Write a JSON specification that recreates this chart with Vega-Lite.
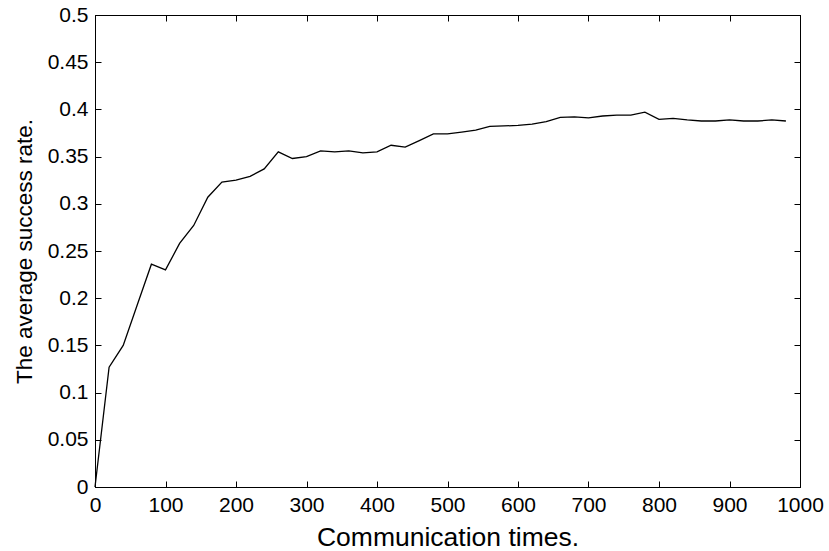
{
  "$schema": "https://vega.github.io/schema/vega-lite/v6.json",
  "width": 705,
  "height": 472,
  "autosize": {"type": "none"},
  "padding": {"left": 95, "top": 15, "right": 29, "bottom": 64},
  "background": "white",
  "config": {
    "view": {"stroke": "black", "strokeWidth": 1},
    "font": "Liberation Sans",
    "axis": {
      "grid": false,
      "domainColor": "black",
      "tickColor": "black",
      "labelColor": "black",
      "titleColor": "black",
      "labelFont": "Liberation Sans",
      "titleFont": "Liberation Sans",
      "labelFontSize": 21,
      "titleFontSize": 25,
      "titleFontWeight": "normal",
      "tickSize": -6,
      "labelPadding": 13,
      "labelFlush": false,
      "labelOverlap": false
    }
  },
  "data": {
    "values": [
      {"t": 0, "rate": 0.0},
      {"t": 20, "rate": 0.127},
      {"t": 40, "rate": 0.15},
      {"t": 60, "rate": 0.193},
      {"t": 80, "rate": 0.236},
      {"t": 100, "rate": 0.23},
      {"t": 120, "rate": 0.258},
      {"t": 140, "rate": 0.277},
      {"t": 160, "rate": 0.307},
      {"t": 180, "rate": 0.323},
      {"t": 200, "rate": 0.325},
      {"t": 220, "rate": 0.329},
      {"t": 240, "rate": 0.337},
      {"t": 260, "rate": 0.355},
      {"t": 280, "rate": 0.348},
      {"t": 300, "rate": 0.35},
      {"t": 320, "rate": 0.356},
      {"t": 340, "rate": 0.355},
      {"t": 360, "rate": 0.356},
      {"t": 380, "rate": 0.354},
      {"t": 400, "rate": 0.355},
      {"t": 420, "rate": 0.362},
      {"t": 440, "rate": 0.36},
      {"t": 460, "rate": 0.367},
      {"t": 480, "rate": 0.374},
      {"t": 500, "rate": 0.374},
      {"t": 520, "rate": 0.376},
      {"t": 540, "rate": 0.378},
      {"t": 560, "rate": 0.382},
      {"t": 580, "rate": 0.3825},
      {"t": 600, "rate": 0.383},
      {"t": 620, "rate": 0.3845},
      {"t": 640, "rate": 0.387},
      {"t": 660, "rate": 0.3915},
      {"t": 680, "rate": 0.392},
      {"t": 700, "rate": 0.391},
      {"t": 720, "rate": 0.393},
      {"t": 740, "rate": 0.394},
      {"t": 760, "rate": 0.394},
      {"t": 780, "rate": 0.397},
      {"t": 800, "rate": 0.3895},
      {"t": 820, "rate": 0.3905},
      {"t": 840, "rate": 0.3888},
      {"t": 860, "rate": 0.3877},
      {"t": 880, "rate": 0.3877},
      {"t": 900, "rate": 0.3888},
      {"t": 920, "rate": 0.3877},
      {"t": 940, "rate": 0.3877},
      {"t": 960, "rate": 0.3888},
      {"t": 980, "rate": 0.3877}
    ]
  },
  "layer": [
    {
      "mark": {"type": "line", "color": "black", "strokeWidth": 1.3},
      "encoding": {
        "x": {
          "field": "t", "type": "quantitative",
          "scale": {"domain": [0, 1000], "nice": false},
          "axis": {"values": [0,100,200,300,400,500,600,700,800,900,1000], "format": "d", "title": "Communication times.", "titlePadding": 9, "titleFontSize": 26.5}
        },
        "y": {
          "field": "rate", "type": "quantitative",
          "scale": {"domain": [0, 0.5], "nice": false, "zero": false},
          "axis": {"values": [0,0.05,0.1,0.15,0.2,0.25,0.3,0.35,0.4,0.45,0.5], "format": "~g", "title": "The average success rate.", "titlePadding": 11, "titleFontSize": 22.5, "labelPadding": 13}
        }
      }
    },
    {
      "mark": {"type": "line", "strokeOpacity": 0},
      "encoding": {
        "x": {
          "field": "t", "type": "quantitative",
          "scale": {"domain": [0, 1000], "nice": false},
          "axis": {"orient": "top", "values": [0,100,200,300,400,500,600,700,800,900,1000], "labels": false, "title": null}
        },
        "y": {
          "field": "rate", "type": "quantitative",
          "scale": {"domain": [0, 0.5], "nice": false, "zero": false},
          "axis": {"orient": "right", "values": [0,0.05,0.1,0.15,0.2,0.25,0.3,0.35,0.4,0.45,0.5], "labels": false, "title": null}
        }
      }
    }
  ],
  "resolve": {"axis": {"x": "independent", "y": "independent"}}
}
